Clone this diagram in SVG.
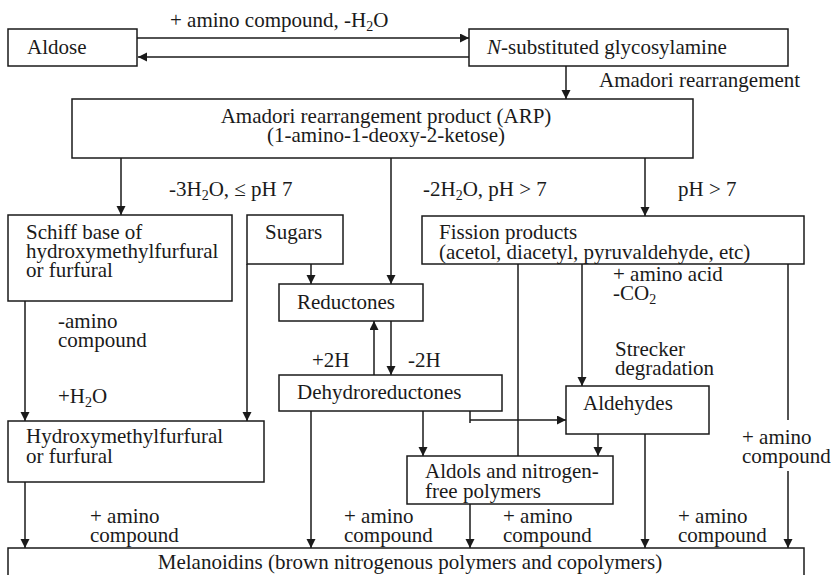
<svg xmlns="http://www.w3.org/2000/svg" width="831" height="575" viewBox="0 0 831 575">
<defs>
<marker id="ah" markerUnits="userSpaceOnUse" markerWidth="10" markerHeight="10" refX="9" refY="4.5" orient="auto">
<path d="M0,0 L9,4.5 L0,9 z" fill="#1a1a1a"/>
</marker>
<style>
text{font-family:"Liberation Serif","Times New Roman",serif;font-size:21px;fill:#1a1a1a}
.box{fill:#fff;stroke:#1a1a1a;stroke-width:1.5}
.c{fill:none;stroke:#1a1a1a;stroke-width:1.5}
.a{marker-end:url(#ah)}
.sub{font-size:14px}
.mid{text-anchor:middle}
</style>
</defs>
<rect width="831" height="575" fill="#fff"/>

<g id="connectors">
<path class="c a" d="M137,38 H469"/>
<path class="c a" d="M469,57 H138"/>
<path class="c a" d="M566,66 V99"/>
<path class="c a" d="M121,158 V215"/>
<path class="c a" d="M391,158 V284"/>
<path class="c a" d="M645,158 V216"/>
<path class="c a" d="M311,264 V284"/>
<path class="c a" d="M247,264 V421"/>
<path class="c a" d="M25,301 V421"/>
<path class="c a" d="M374,375 V321"/>
<path class="c a" d="M391,321 V375"/>
<path class="c" d="M518,260 V456"/>
<path class="c a" d="M582,260 V386"/>
<path class="c" d="M788,260 V420"/>
<path class="c a" d="M788,471 V548"/>
<path class="c" d="M470,411 V423"/>
<path class="c a" d="M470,420 H566"/>
<path class="c a" d="M423,411 V456"/>
<path class="c a" d="M598,434 V456"/>
<path class="c a" d="M645,434 V548"/>
<path class="c a" d="M470,504 V548"/>
<path class="c a" d="M311,411 V548"/>
<path class="c a" d="M25,482 V548"/>
</g>

<g id="labels">
<text x="170" y="27">+ amino compound, -H<tspan class="sub" dy="4">2</tspan><tspan dy="-4">O</tspan></text>
<text x="599" y="87">Amadori rearrangement</text>
<text x="169" y="196">-3H<tspan class="sub" dy="4">2</tspan><tspan dy="-4">O, ≤ pH 7</tspan></text>
<text x="423" y="196">-2H<tspan class="sub" dy="4">2</tspan><tspan dy="-4">O, pH &gt; 7</tspan></text>
<text x="678" y="196">pH &gt; 7</text>
<text x="613" y="281">+ amino acid</text>
<text x="613" y="300">-CO<tspan class="sub" dy="4">2</tspan></text>
<text x="58" y="328">-amino</text>
<text x="58" y="347">compound</text>
<text x="58" y="403">+H<tspan class="sub" dy="4">2</tspan><tspan dy="-4">O</tspan></text>
<text x="312" y="367">+2H</text>
<text x="408" y="367">-2H</text>
<text x="615" y="356">Strecker</text>
<text x="615" y="375">degradation</text>
<text x="742" y="444">+ amino</text>
<text x="742" y="463">compound</text>
<text x="90" y="523">+ amino</text>
<text x="90" y="542">compound</text>
<text x="344" y="523">+ amino</text>
<text x="344" y="542">compound</text>
<text x="503" y="523">+ amino</text>
<text x="503" y="542">compound</text>
<text x="678" y="523">+ amino</text>
<text x="678" y="542">compound</text>
</g>

<g id="aldose">
<rect class="box" x="8" y="29" width="129" height="37"/>
<text x="27" y="54">Aldose</text>
</g>
<g id="glycosylamine">
<rect class="box" x="469" y="29" width="319" height="37"/>
<text x="487" y="54"><tspan font-style="italic">N</tspan>-substituted glycosylamine</text>
</g>
<g id="arp">
<rect class="box" x="72" y="99" width="621" height="59"/>
<text class="mid" x="386" y="123">Amadori rearrangement product (ARP)</text>
<text class="mid" x="386" y="142">(1-amino-1-deoxy-2-ketose)</text>
</g>
<g id="schiff">
<rect class="box" x="8" y="215" width="224" height="86"/>
<text x="26" y="239">Schiff base of</text>
<text x="26" y="258">hydroxymethylfurfural</text>
<text x="26" y="277">or furfural</text>
</g>
<g id="sugars">
<rect class="box" x="247" y="215" width="96" height="49"/>
<text x="265" y="239">Sugars</text>
</g>
<g id="fission">
<rect class="box" x="422" y="216" width="382" height="48"/>
<text x="439" y="239">Fission products</text>
<text x="439" y="259">(acetol, diacetyl, pyruvaldehyde, etc)</text>
</g>
<g id="reductones">
<rect class="box" x="279" y="284" width="144" height="37"/>
<text x="297" y="309">Reductones</text>
</g>
<g id="dehydroreductones">
<rect class="box" x="279" y="375" width="223" height="36"/>
<text x="297" y="399">Dehydroreductones</text>
</g>
<g id="aldehydes">
<rect class="box" x="566" y="386" width="143" height="48"/>
<text x="583" y="410">Aldehydes</text>
</g>
<g id="hmf">
<rect class="box" x="8" y="421" width="256" height="61"/>
<text x="26" y="443">Hydroxymethylfurfural</text>
<text x="26" y="463">or furfural</text>
</g>
<g id="aldols">
<rect class="box" x="407" y="456" width="206" height="48"/>
<text x="425" y="478">Aldols and nitrogen-</text>
<text x="425" y="498">free polymers</text>
</g>
<g id="melanoidins">
<rect class="box" x="8" y="548" width="796" height="40"/>
<text class="mid" x="410" y="569">Melanoidins (brown nitrogenous polymers and copolymers)</text>
</g>
</svg>
